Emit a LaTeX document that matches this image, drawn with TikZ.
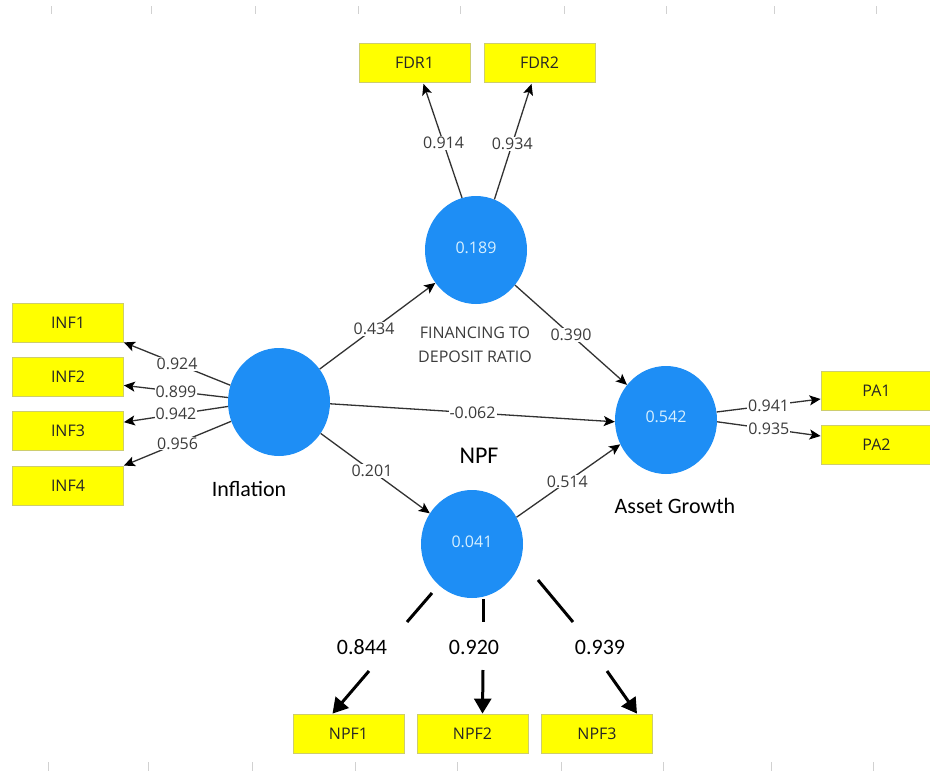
\documentclass[tikz,border=0pt]{standalone}
\usepackage{fontspec}
\setmainfont{Open Sans}
\newfontfamily\carl{Carlito}
\usetikzlibrary{arrows.meta,shapes.geometric,calc}
\definecolor{lvblue}{RGB}{30,142,245}
\definecolor{boxyel}{RGB}{255,255,0}
\definecolor{boxedge}{RGB}{205,205,110}
\definecolor{labgray}{RGB}{60,60,60}
\definecolor{linegray}{RGB}{50,50,50}
\definecolor{circtext}{RGB}{215,240,255}
\tikzset{
  indbox/.style={rectangle, minimum width=111pt, minimum height=39pt, inner sep=0pt,
    fill=boxyel, draw=boxedge, line width=0.8pt, text=black!85,
    font=\fontsize{16}{18}\selectfont},
  latent/.style={ellipse, minimum width=102pt, minimum height=108pt, inner sep=0pt,
    fill=lvblue, draw=none, text=circtext, font=\fontsize{16}{18}\selectfont},
  thinarr/.style={draw=linegray, line width=1.3pt,
    -{Stealth[length=11pt,width=10pt,inset=2.5pt,color=black]}},
  coef/.style={fill=white, inner sep=1pt, text=labgray, font=\fontsize{16}{18}\selectfont},
  thickseg/.style={draw=black, line width=3pt},
  thickarr/.style={draw=black, line width=3pt, -{Triangle[length=15pt,width=17pt]}},
  biglab/.style={text=black, font=\carl\fontsize{22}{26}\selectfont},
  gridtick/.style={draw=black!18, line width=0.6pt}
}
\begin{document}
\begin{tikzpicture}[x=1pt,y=-1pt]
\useasboundingbox[fill=white] (0,0) rectangle (930,771);
% faint page ticks
\foreach \t in {51,151,255,358,460,564,666,774,876}{
  \draw[gridtick] (\t,6) -- (\t,14);
  \draw[gridtick] (\t-3,762) -- (\t-3,771);
}
% indicator boxes
\node[indbox] (fdr1) at (414.5,63) {FDR1};
\node[indbox] (fdr2) at (539.5,63) {FDR2};
\node[indbox] (inf1) at (68,322.5) {INF1};
\node[indbox] (inf2) at (68,376.5) {INF2};
\node[indbox] (inf3) at (68,431) {INF3};
\node[indbox] (inf4) at (68,485.5) {INF4};
\node[indbox] (pa1) at (876.5,391) {PA1};
\node[indbox] (pa2) at (876.5,445) {PA2};
\node[indbox] (npf1) at (348.5,733.5) {NPF1};
\node[indbox] (npf2) at (472.5,733.5) {NPF2};
\node[indbox] (npf3) at (597,733.5) {NPF3};
% latent variables
\node[latent] (fdrc) at (476,250) {\raisebox{4pt}{0.189}};
\node[latent] (infc) at (279,402) {};
\node[latent] (agc) at (666,420) {\raisebox{6pt}{0.542}};
\node[latent] (npfc) at (472,544) {\raisebox{4pt}{0.041}};
% latent labels
\node[text=labgray, font=\fontsize{16}{24}\selectfont, align=center] (fdrlab) at (475,345) {FINANCING TO\\DEPOSIT RATIO};
\node[biglab] (inflab) at (249,489) {Inflation};
\node[biglab] (aglab) at (675,506) {Asset Growth};
\node[biglab, font=\carl\fontsize{24}{28}\selectfont] (npflab) at (479,456) {NPF};
% inflation loadings
\draw[thinarr] (infc.161) -- node[coef, pos=0.5] {0.924} (inf1.south east);
\draw[thinarr] (infc.175.5) -- node[coef, pos=0.5] {0.899} (inf2.-9);
\draw[thinarr] (infc.185.6) -- node[coef, pos=0.5] {0.942} (inf3.9);
\draw[thinarr] (infc.202) -- node[coef, pos=0.5] {0.956} (inf4.north east);
% FDR loadings
\draw[thinarr] (fdrc.105.8) -- node[coef, pos=0.48] {0.914} ($(fdr1.south)+(9,1)$);
\draw[thinarr] (fdrc.70.9) -- node[coef, pos=0.48] {0.934} ($(fdr2.south)+(-8,1)$);
% PA loadings
\draw[thinarr] (agc.9) -- node[coef, pos=0.5] {0.941} ($(pa1.west)+(0,8)$);
\draw[thinarr] (agc.-2) -- node[coef, pos=0.5] {0.935} ($(pa2.west)+(0,-9)$);
% structural paths
\draw[thinarr] (infc.39.7) -- node[coef, pos=0.47] {0.434} (fdrc.219);
\draw[thinarr] (infc.-2) -- node[coef, pos=0.5] {-0.062} (agc.182);
\draw[thinarr] (fdrc.-42) -- node[coef, pos=0.5] {0.390} (agc.138.5);
\draw[thinarr] (infc.-37.5) -- node[coef, pos=0.47] {0.201} (npfc.144.8);
\draw[thinarr] (npfc.31) -- node[coef, pos=0.49] {0.514} (agc.208.5);
% NPF loadings (broken thick arrows)
\coordinate (n1a) at (432,593);
\coordinate (n1b) at (407,622);
\coordinate (n1c) at (369,671);
\coordinate (n2a) at (483,599);
\coordinate (n2b) at (483,622);
\coordinate (n2c) at (483,670);
\coordinate (n3a) at (538,580);
\coordinate (n3b) at (573,622);
\coordinate (n3c) at (607,671);
\draw[thickseg] (n1a) -- (n1b);
\draw[thickseg] (n2a) -- (n2b);
\draw[thickseg] (n3a) -- (n3b);
\node[biglab] (l844) at (362,647) {0.844};
\node[biglab] (l920) at (474,647) {0.920};
\node[biglab] (l939) at (600,647) {0.939};
\draw[thickarr] (n1c) -- ($(npf1.north)+(-16,0)$);
\draw[thickarr] (n2c) -- ($(npf2.north)+(10,0)$);
\draw[thickarr] (n3c) -- ($(npf3.north)+(40,0)$);
\end{tikzpicture}
\end{document}
